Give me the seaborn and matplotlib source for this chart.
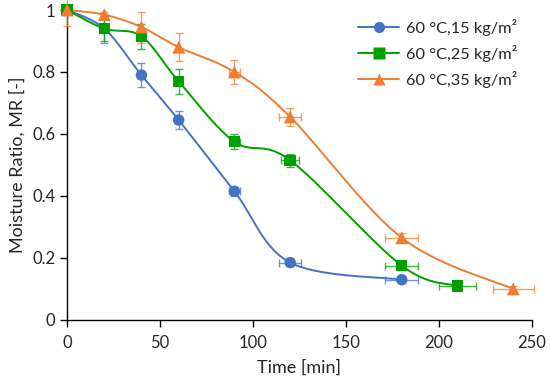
import numpy as np
import pandas as pd
import seaborn as sns
import matplotlib.pyplot as plt
from matplotlib.lines import Line2D
from matplotlib.ticker import FuncFormatter

# Data
labels = ["60 °C,15 kg/m²", "60 °C,25 kg/m²", "60 °C,35 kg/m²"]

t15 = [0, 20, 40, 60, 90, 120, 180]
mr15 = [1.0, 0.94, 0.79, 0.645, 0.415, 0.185, 0.13]
ye15 = [0.0, 0.045, 0.04, 0.03, 0.015, 0.01, 0.01]
xe15 = [0, 0, 0, 0, 3, 6, 9]

t25 = [0, 20, 40, 60, 90, 120, 180, 210]
mr25 = [1.0, 0.94, 0.915, 0.77, 0.575, 0.515, 0.175, 0.11]
ye25 = [0.0, 0.04, 0.04, 0.04, 0.025, 0.02, 0.01, 0.01]
xe25 = [0, 0, 0, 0, 3, 5, 9, 10]

t35 = [0, 20, 40, 60, 90, 120, 180, 240]
mr35 = [1.0, 0.985, 0.945, 0.88, 0.80, 0.655, 0.265, 0.10]
ye35 = [0.05, 0.01, 0.05, 0.045, 0.04, 0.03, 0.015, 0.01]
xe35 = [0, 0, 0, 0, 3, 6, 9, 11]

colors = ["#4472C4", "#00A000", "#ED7D31"]
markers = ["o", "s", "^"]


def smooth(x, y, n=30):
    # Excel-style smoothed line (uniform Catmull-Rom as cubic Bezier)
    p = np.column_stack([x, y]).astype(float)
    p = np.vstack([p[0], p, p[-1]])
    out = []
    s = np.linspace(0, 1, n)[:, None]
    for i in range(1, len(p) - 2):
        p0, p1, p2, p3 = p[i - 1], p[i], p[i + 1], p[i + 2]
        c1 = p1 + (p2 - p0) / 6
        c2 = p2 - (p3 - p1) / 6
        seg = ((1 - s) ** 3) * p1 + 3 * ((1 - s) ** 2) * s * c1 \
            + 3 * (1 - s) * s ** 2 * c2 + s ** 3 * p2
        out.append(seg)
    out = np.vstack(out)
    return out[:, 0], out[:, 1]


sns.set_theme(style="ticks")
plt.rcParams["font.family"] = ["Lato", "DejaVu Sans"]

fig, ax = plt.subplots(figsize=(5.5, 3.85), dpi=100)
fig.subplots_adjust(left=0.122, right=0.967, bottom=0.169, top=0.974)

series = [(t15, mr15, xe15, ye15), (t25, mr25, xe25, ye25), (t35, mr35, xe35, ye35)]
handles = []
for (t, mr, xe, ye), lab, c, m in zip(series, labels, colors, markers):
    sx, sy = smooth(t, mr)
    curve = pd.DataFrame({"t": sx, "mr": sy})
    sns.lineplot(data=curve, x="t", y="mr", sort=False, color=c, lw=1.4,
                 ax=ax, clip_on=False, zorder=2)
    ax.errorbar(t, mr, xerr=xe, yerr=ye, fmt="none", ecolor=c, elinewidth=1,
                capsize=3, capthick=1, alpha=0.75, clip_on=False, zorder=3)
    pts = pd.DataFrame({"t": t, "mr": mr})
    ms = 85 if m == "^" else 68
    sns.scatterplot(data=pts, x="t", y="mr", marker=m, color=c, s=ms,
                    edgecolor="none", ax=ax, clip_on=False, zorder=4)
    handles.append(Line2D([0], [0], color=c, lw=1.4, marker=m, markersize=8,
                          markeredgecolor="none", label=lab))

ax.set_xlim(0, 250)
ax.set_ylim(0, 1)
ax.set_xticks(np.arange(0, 251, 50))
ax.set_yticks(np.arange(0, 1.01, 0.2))
ax.yaxis.set_major_formatter(FuncFormatter(lambda v, p: f"{v:g}"))
ax.tick_params(axis="both", labelsize=12, length=5, width=1, color="black")
ax.tick_params(axis="x", pad=6)
ax.set_xlabel("Time [min]", fontsize=13, labelpad=6)
ax.set_ylabel("Moisture Ratio, MR [-]", fontsize=13, labelpad=5)
for sp in ["top", "right"]:
    ax.spines[sp].set_visible(False)
for sp in ["left", "bottom"]:
    ax.spines[sp].set_color("black")
    ax.spines[sp].set_linewidth(1)

ax.legend(handles=handles, loc="upper right", frameon=False, fontsize=11.8,
          handlelength=2.5, handletextpad=0.4, labelspacing=0.55,
          bbox_to_anchor=(1.0, 1.02))

fig.savefig("out.png", dpi=100)
